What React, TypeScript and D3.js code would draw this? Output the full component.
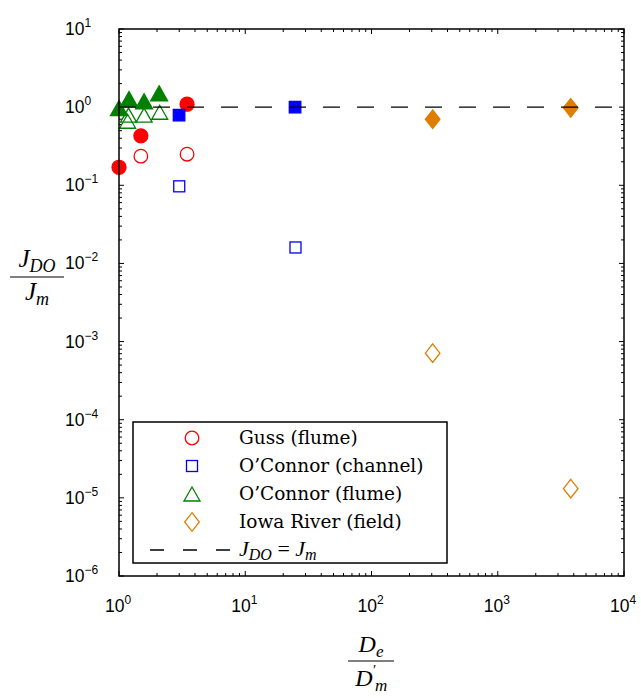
import React from "react";
import * as d3 from "d3";

// ---- data ----
const gussFilledX = [1.0, 1.49, 3.46];
const gussFilledY = [0.17, 0.43, 1.09];
const gussOpenX = [1.49, 3.46];
const gussOpenY = [0.236, 0.25];

const channelFilledX = [2.99, 24.8];
const channelFilledY = [0.79, 1.0];
const channelOpenX = [3.0, 25.0];
const channelOpenY = [0.097, 0.016];

const flumeFilledX = [1.0, 1.2, 1.58, 2.08];
const flumeFilledY = [0.97, 1.27, 1.19, 1.5];
const flumeOpenX = [1.17, 1.19, 1.58, 2.1];
const flumeOpenY = [0.66, 0.79, 0.79, 0.86];

const iowaFilledX = [305, 3785];
const iowaFilledY = [0.7, 0.98];
const iowaOpenX = [305, 3785];
const iowaOpenY = [7.1e-4, 1.31e-5];

const xTickExps = [0, 1, 2, 3, 4];
const yTickExps = [1, 0, -1, -2, -3, -4, -5, -6];

const legendLabels = [
  "Guss (flume)",
  "O\u2019Connor (channel)",
  "O\u2019Connor (flume)",
  "Iowa River (field)",
];

const RED = "#ff0000";
const BLUE = "#0000ff";
const GREEN = "#008000";
const ORANGE = "#de7d00";

const W = 641;
const H = 698;
const L = 119, R = 624, T = 29, B = 576;

const x = d3.scaleLog().domain([1, 1e4]).range([L, R]);
const y = d3.scaleLog().domain([1e-6, 10]).range([B, T]);

const sans = "'Liberation Sans', Arial, Helvetica, sans-serif";
const serif = "'DejaVu Serif', serif";
const mathFont = "'Liberation Serif', 'Times New Roman', serif";

function zip(xs: number[], ys: number[]) {
  return xs.map((v, i) => [v, ys[i]] as [number, number]);
}

type Shape = "circle" | "square" | "triangle" | "diamond";

function Marker({ shape, cx, cy, color, filled }: { shape: Shape; cx: number; cy: number; color: string; filled: boolean }) {
  const fill = filled ? color : "none";
  const sw = 1.3;
  if (shape === "circle") {
    const r = filled ? 7 : 6.8;
    return <circle cx={cx} cy={cy} r={r} fill={fill} stroke={color} strokeWidth={sw} />;
  }
  if (shape === "square") {
    const s = filled ? 11.5 : 11;
    return <rect x={cx - s / 2} y={cy - s / 2} width={s} height={s} fill={fill} stroke={color} strokeWidth={sw} />;
  }
  if (shape === "triangle") {
    const hw = filled ? 8.5 : 8;
    const hh = filled ? 7.5 : 7;
    const p = `${cx},${cy - hh} ${cx + hw},${cy + hh} ${cx - hw},${cy + hh}`;
    return <polygon points={p} fill={fill} stroke={color} strokeWidth={sw} strokeLinejoin="miter" />;
  }
  const hw = 7.3;
  const hh = 9.3;
  const p = `${cx},${cy - hh} ${cx + hw},${cy} ${cx},${cy + hh} ${cx - hw},${cy}`;
  return <polygon points={p} fill={fill} stroke={color} strokeWidth={sw} />;
}

function Series({ xs, ys, shape, color, filled }: { xs: number[]; ys: number[]; shape: Shape; color: string; filled: boolean }) {
  return (
    <g>
      {zip(xs, ys).map(([a, b], i) => (
        <Marker key={i} shape={shape} cx={x(a)} cy={y(b)} color={color} filled={filled} />
      ))}
    </g>
  );
}

function minorValues(lo: number, hi: number) {
  const out: number[] = [];
  for (let e = lo; e < hi; e++) {
    for (let k = 2; k <= 9; k++) out.push(k * Math.pow(10, e));
  }
  return out;
}

function expStr(e: number) {
  return e < 0 ? "\u2212" + String(-e) : String(e);
}

export default function App() {
  const xMinor = minorValues(0, 4);
  const yMinor = minorValues(-6, 1);
  const majLen = 5;
  const minLen = 3;
  const oneY = y(1);

  const legX = 133, legY = 422, legW = 314, legH = 141;
  const rowY = (i: number) => 438 + i * 28;
  const legMarkX = 192;
  const legTextX = 239;
  const legShapes: Shape[] = ["circle", "square", "triangle", "diamond"];
  const legColors = [RED, BLUE, GREEN, ORANGE];

  return (
    <div style={{ position: "absolute", left: 0, top: 0 }}>
      <svg width={W} height={H} viewBox={`0 0 ${W} ${H}`} style={{ display: "block", background: "#fff" }}>
        <rect x={0} y={0} width={W} height={H} fill="#fff" />

        {/* ticks */}
        <g stroke="#000" strokeWidth={1}>
          {xTickExps.map((e) => {
            const px = x(Math.pow(10, e));
            return (
              <g key={"xt" + e}>
                <line x1={px} x2={px} y1={B} y2={B - majLen} />
                <line x1={px} x2={px} y1={T} y2={T + majLen} />
              </g>
            );
          })}
          {xMinor.map((v, i) => {
            const px = x(v);
            return (
              <g key={"xm" + i}>
                <line x1={px} x2={px} y1={B} y2={B - minLen} />
                <line x1={px} x2={px} y1={T} y2={T + minLen} />
              </g>
            );
          })}
          {yTickExps.map((e) => {
            const py = y(Math.pow(10, e));
            return (
              <g key={"yt" + e}>
                <line x1={L} x2={L + majLen} y1={py} y2={py} />
                <line x1={R} x2={R - majLen} y1={py} y2={py} />
              </g>
            );
          })}
          {yMinor.map((v, i) => {
            const py = y(v);
            return (
              <g key={"ym" + i}>
                <line x1={L} x2={L + minLen} y1={py} y2={py} />
                <line x1={R} x2={R - minLen} y1={py} y2={py} />
              </g>
            );
          })}
        </g>

        {/* tick labels */}
        <g fontFamily={sans} fill="#000">
          {xTickExps.map((e) => (
            <text key={"xl" + e} x={x(Math.pow(10, e)) - 1} y={612} fontSize={17.5} textAnchor="middle">
              10<tspan fontSize={12} dy={-8}>{expStr(e)}</tspan>
            </text>
          ))}
          {yTickExps.map((e) => (
            <text key={"yl" + e} x={65} y={y(Math.pow(10, e)) + 6} fontSize={17.5} textAnchor="start">
              10<tspan fontSize={12} dy={-8}>{expStr(e)}</tspan>
            </text>
          ))}
        </g>

        {/* data */}
        <Series xs={gussOpenX} ys={gussOpenY} shape="circle" color={RED} filled={false} />
        <Series xs={gussFilledX} ys={gussFilledY} shape="circle" color={RED} filled={true} />
        <Series xs={channelOpenX} ys={channelOpenY} shape="square" color={BLUE} filled={false} />
        <Series xs={channelFilledX} ys={channelFilledY} shape="square" color={BLUE} filled={true} />
        <Series xs={flumeOpenX} ys={flumeOpenY} shape="triangle" color={GREEN} filled={false} />
        <Series xs={flumeFilledX} ys={flumeFilledY} shape="triangle" color={GREEN} filled={true} />
        <Series xs={iowaOpenX} ys={iowaOpenY} shape="diamond" color={ORANGE} filled={false} />
        <Series xs={iowaFilledX} ys={iowaFilledY} shape="diamond" color={ORANGE} filled={true} />

        {/* J_DO = J_m line */}
        <line x1={L} x2={R} y1={oneY} y2={oneY} stroke="#000" strokeWidth={1.4} strokeDasharray="17,17" />

        {/* frame */}
        <rect x={L} y={T} width={R - L} height={B - T} fill="none" stroke="#000" strokeWidth={1.5} />

        {/* legend */}
        <g>
          <rect x={legX} y={legY} width={legW} height={legH} fill="#fff" stroke="#000" strokeWidth={1.5} />
          {legendLabels.map((lab, i) => (
            <g key={"lg" + i}>
              <Marker shape={legShapes[i]} cx={legMarkX} cy={rowY(i)} color={legColors[i]} filled={false} />
              <text x={legTextX} y={rowY(i) + 6} fontFamily={serif} fontSize={18.5} fill="#000">{lab}</text>
            </g>
          ))}
          <line x1={150} x2={231} y1={rowY(4)} y2={rowY(4)} stroke="#000" strokeWidth={1.4} strokeDasharray="14,19" />
          <text x={legTextX} y={rowY(4) + 6} fontFamily={mathFont} fontSize={22} fill="#000">
            <tspan fontStyle="italic">J</tspan>
            <tspan fontStyle="italic" fontSize={16} dy={4}>DO</tspan>
            <tspan dy={-4}> = </tspan>
            <tspan fontStyle="italic">J</tspan>
            <tspan fontStyle="italic" fontSize={16} dy={4}>m</tspan>
          </text>
        </g>

        {/* y label */}
        <g fontFamily={mathFont} fill="#000">
          <text x={37} y={267} fontSize={25} textAnchor="middle">
            <tspan fontStyle="italic">J</tspan>
            <tspan fontStyle="italic" fontSize={18} dy={5}>DO</tspan>
          </text>
          <line x1={10} x2={64} y1={277} y2={277} stroke="#000" strokeWidth={1.2} />
          <text x={37} y={300} fontSize={25} textAnchor="middle">
            <tspan fontStyle="italic">J</tspan>
            <tspan fontStyle="italic" fontSize={18} dy={5}>m</tspan>
          </text>
        </g>

        {/* x label */}
        <g fontFamily={mathFont} fill="#000">
          <text x={371} y={652} fontSize={24} textAnchor="middle">
            <tspan fontStyle="italic">D</tspan>
            <tspan fontStyle="italic" fontSize={17} dy={5}>e</tspan>
          </text>
          <line x1={348} x2={394} y1={661} y2={661} stroke="#000" strokeWidth={1.2} />
          <text x={364} y={686} fontSize={24} fontStyle="italic" textAnchor="middle">D</text>
          <text x={373} y={675} fontSize={15} textAnchor="start">{"\u2032"}</text>
          <text x={375} y={691} fontSize={17} fontStyle="italic" textAnchor="start">m</text>
        </g>
      </svg>
    </div>
  );
}
